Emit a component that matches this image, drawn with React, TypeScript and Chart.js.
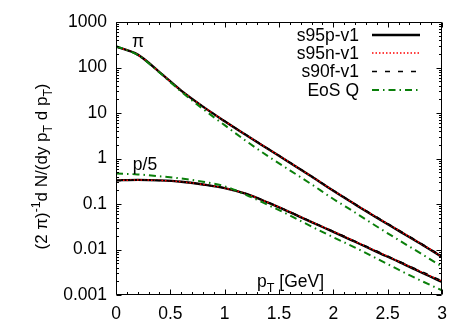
import React, { useEffect, useRef } from "react";
import { Chart, registerables } from "chart.js";

Chart.register(...registerables);

// ---- data ----
const pT = [0, 0.2, 0.4, 0.6, 0.8, 1.0, 1.2, 1.4, 1.6, 1.8, 2.0, 2.2, 2.4, 2.6, 2.8, 3.0];

const piS95p = [288, 192, 79.4, 31, 13.8, 6.6, 3.24, 1.62, 0.81, 0.4, 0.195, 0.098, 0.05, 0.026, 0.0135, 0.0068];
const piS95n = [288, 192, 79.5, 31, 13.9, 6.65, 3.27, 1.64, 0.82, 0.405, 0.198, 0.1, 0.051, 0.0266, 0.0138, 0.007];
const piS90f = [286, 191, 79, 31, 13.9, 6.7, 3.3, 1.66, 0.83, 0.41, 0.2, 0.101, 0.052, 0.027, 0.0141, 0.0072];
const piEosQ = [295, 188, 77.6, 29.5, 12.3, 5.4, 2.4, 1.12, 0.55, 0.27, 0.129, 0.065, 0.032, 0.0162, 0.0083, 0.0042];

const pS95p = [0.331, 0.339, 0.331, 0.309, 0.269, 0.224, 0.166, 0.107, 0.066, 0.04, 0.0245, 0.0148, 0.0089, 0.0054, 0.0032, 0.00195];
const pS95n = [0.329, 0.337, 0.33, 0.308, 0.268, 0.224, 0.167, 0.108, 0.067, 0.0405, 0.025, 0.0151, 0.0091, 0.0055, 0.0033, 0.002];
const pS90f = [0.325, 0.334, 0.328, 0.307, 0.268, 0.225, 0.168, 0.109, 0.068, 0.041, 0.0253, 0.0153, 0.0093, 0.0056, 0.0034, 0.00205];
const pEosQ = [0.468, 0.447, 0.407, 0.363, 0.309, 0.245, 0.158, 0.095, 0.056, 0.032, 0.0186, 0.011, 0.0063, 0.0036, 0.0021, 0.00126];

const xTicks = [0, 0.5, 1, 1.5, 2, 2.5, 3];
const yTicks = [0.001, 0.01, 0.1, 1, 10, 100, 1000];
const yTickLabels = ["0.001", "0.01", "0.1", "1", "10", "100", "1000"];
const seriesNames = ["s95p-v1", "s95n-v1", "s90f-v1", "EoS Q"];

// ---- styles ----
const FONT = "'Liberation Sans', Arial, Helvetica, sans-serif";
const FS = 17.5;
const styles = [
  { color: "#000000", width: 2.4, dash: [] as number[], order: 4 },
  { color: "#ff0000", width: 1.5, dash: [1.5, 2], order: 3 },
  { color: "#000000", width: 1.3, dash: [5, 8], order: 2 },
  { color: "#0a7f0a", width: 2, dash: [7, 4, 1.5, 4], order: 1 },
];

const toPts = (ys: number[]) => pT.map((x, i) => ({ x, y: ys[i] }));

function drawRich(ctx: CanvasRenderingContext2D, parts: { t: string; k?: "sub" | "sup" }[], x: number, y: number, size: number, align: "left" | "center") {
  const small = size * 0.72;
  let total = 0;
  for (const p of parts) {
    ctx.font = `${p.k ? small : size}px ${FONT}`;
    total += ctx.measureText(p.t).width;
  }
  let cx = align === "center" ? x - total / 2 : x;
  ctx.textAlign = "left";
  ctx.textBaseline = "alphabetic";
  for (const p of parts) {
    ctx.font = `${p.k ? small : size}px ${FONT}`;
    const dy = p.k === "sub" ? size * 0.28 : p.k === "sup" ? -size * 0.42 : 0;
    ctx.fillText(p.t, cx, y + dy);
    cx += ctx.measureText(p.t).width;
  }
}

const framePlugin = {
  id: "gnuframe",
  afterDatasetsDraw(chart: any) {
    const { ctx, chartArea: a, scales } = chart;
    const xs = scales.x;
    const ys = scales.y;
    ctx.save();
    ctx.strokeStyle = "#000";
    ctx.lineWidth = 1;
    ctx.setLineDash([]);
    const L = Math.round(a.left) + 0.5;
    const R = Math.round(a.right) - 0.5;
    const T = Math.round(a.top) + 0.5;
    const B = Math.round(a.bottom) - 0.5;
    ctx.beginPath();
    ctx.rect(L, T, R - L, B - T);
    ctx.stroke();
    ctx.beginPath();
    for (let i = 0; i <= 30; i++) {
      const v = i / 10;
      const px = Math.round(xs.getPixelForValue(v)) + 0.5;
      const len = i % 5 === 0 ? 5 : 2.5;
      ctx.moveTo(px, B);
      ctx.lineTo(px, B - len);
      ctx.moveTo(px, T);
      ctx.lineTo(px, T + len);
    }
    for (let e = -3; e <= 3; e++) {
      for (let k = 1; k <= 9; k++) {
        if (e === 3 && k > 1) break;
        const v = k * Math.pow(10, e);
        const py = Math.round(ys.getPixelForValue(v)) + 0.5;
        const len = k === 1 ? 5 : 2.5;
        ctx.moveTo(L, py);
        ctx.lineTo(L + len, py);
        ctx.moveTo(R, py);
        ctx.lineTo(R - len, py);
      }
    }
    ctx.stroke();

    // legend
    const rows = [35, 53, 71.5, 90];
    seriesNames.forEach((name, i) => {
      const s = styles[i];
      ctx.font = `${FS}px ${FONT}`;
      ctx.textAlign = "right";
      ctx.textBaseline = "middle";
      ctx.fillStyle = "#000";
      ctx.fillText(name, 359, rows[i] + 1);
      ctx.beginPath();
      ctx.strokeStyle = s.color;
      ctx.lineWidth = s.width;
      ctx.setLineDash(s.dash);
      ctx.moveTo(372, rows[i]);
      ctx.lineTo(420, rows[i]);
      ctx.stroke();
    });
    ctx.setLineDash([]);

    // in-plot labels
    ctx.fillStyle = "#000";
    ctx.font = `${FS}px ${FONT}`;
    ctx.textAlign = "center";
    ctx.textBaseline = "middle";
    ctx.fillText("π", 138, 42);
    ctx.fillText("p/5", 145, 165);
    drawRich(ctx, [{ t: "p" }, { t: "T", k: "sub" }, { t: " [GeV]" }], 257, 287, FS, "left");

    // y title
    ctx.save();
    ctx.translate(47, 166.5);
    ctx.rotate(-Math.PI / 2);
    drawRich(
      ctx,
      [
        { t: "(2 π)" },
        { t: "-1", k: "sup" },
        { t: "d N/(dy p" },
        { t: "T", k: "sub" },
        { t: " d p" },
        { t: "T", k: "sub" },
        { t: ")" },
      ],
      0,
      0,
      17,
      "center"
    );
    ctx.restore();
    ctx.restore();
  },
};

export default function App() {
  const ref = useRef<HTMLCanvasElement | null>(null);
  useEffect(() => {
    if (!ref.current) return;
    const pionSets = [piS95p, piS95n, piS90f, piEosQ];
    const protonSets = [pS95p, pS95n, pS90f, pEosQ];
    const datasets: any[] = [];
    pionSets.forEach((d, i) => {
      const s = styles[i];
      datasets.push({
        label: seriesNames[i],
        data: toPts(d),
        borderColor: s.color,
        borderWidth: s.width,
        borderDash: s.dash,
        pointRadius: 0,
        cubicInterpolationMode: "monotone",
        fill: false,
        order: s.order,
      });
    });
    protonSets.forEach((d, i) => {
      const s = styles[i];
      datasets.push({
        label: seriesNames[i] + " (p/5)",
        data: toPts(d),
        borderColor: s.color,
        borderWidth: s.width,
        borderDash: s.dash,
        pointRadius: 0,
        cubicInterpolationMode: "monotone",
        fill: false,
        order: s.order,
      });
    });
    const chart = new Chart(ref.current, {
      type: "line",
      data: { datasets },
      options: {
        animation: false,
        responsive: false,
        layout: { padding: { top: 22, right: 32, left: 0, bottom: 0 } },
        plugins: { legend: { display: false }, tooltip: { enabled: false } },
        scales: {
          x: {
            type: "linear",
            min: 0,
            max: 3,
            afterBuildTicks: (s: any) => {
              s.ticks = xTicks.map((v) => ({ value: v }));
            },
            afterFit: (s: any) => {
              s.height = 37;
            },
            grid: { display: false, drawTicks: false },
            border: { display: false },
            ticks: {
              autoSkip: false,
              maxRotation: 0,
              padding: 9,
              color: "#000",
              font: { family: FONT, size: FS },
              callback: (v: any) => String(v),
            },
          },
          y: {
            type: "logarithmic",
            min: 0.001,
            max: 1000,
            afterBuildTicks: (s: any) => {
              s.ticks = yTicks.map((v) => ({ value: v }));
            },
            afterFit: (s: any) => {
              s.width = 116;
            },
            grid: { display: false, drawTicks: false },
            border: { display: false },
            ticks: {
              autoSkip: false,
              padding: 9,
              color: "#000",
              font: { family: FONT, size: FS },
              callback: (v: any) => {
                const i = yTicks.findIndex((t) => Math.abs(t - v) / t < 1e-6);
                return i >= 0 ? yTickLabels[i] : "";
              },
            },
          },
        },
      },
      plugins: [framePlugin],
    });
    return () => chart.destroy();
  }, []);
  return (
    <div style={{ position: "fixed", left: 0, top: 0, width: 474, height: 332, background: "#fff" }}>
      <canvas ref={ref} width={474} height={332} />
    </div>
  );
}
